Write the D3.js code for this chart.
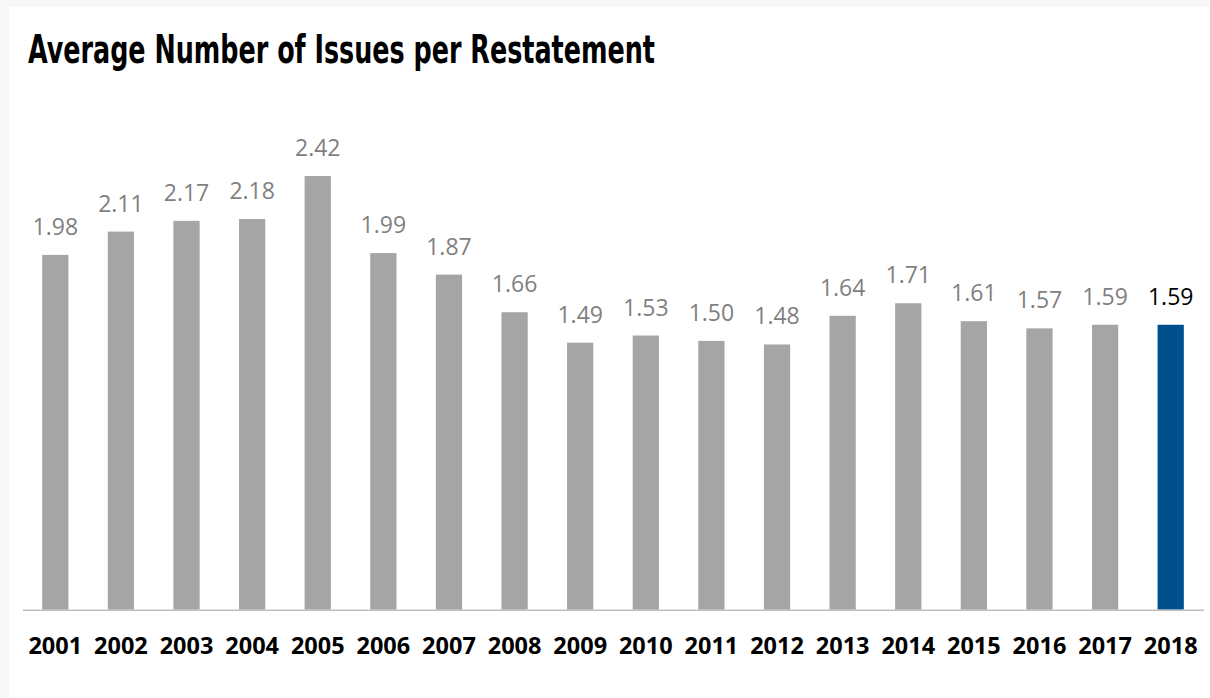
<!DOCTYPE html>
<html>
<head>
<meta charset="utf-8">
<script src="https://cdn.jsdelivr.net/npm/d3@7"></script>
<style>
  html, body { margin: 0; padding: 0; background: #f8f8f8; }
  svg { display: block; }
</style>
</head>
<body>
<svg id="chart" width="1210" height="698"></svg>
<script>
// Average number of issues per restatement, by year
const years = ["2001","2002","2003","2004","2005","2006","2007","2008","2009",
               "2010","2011","2012","2013","2014","2015","2016","2017","2018"];
const avgIssues = [1.98, 2.11, 2.17, 2.18, 2.42, 1.99, 1.87, 1.66, 1.49,
                   1.53, 1.50, 1.48, 1.64, 1.71, 1.61, 1.57, 1.59, 1.59];
const highlightYear = "2018";
const titleText = "Average Number of Issues per Restatement";

const data = years.map((y, i) => ({ year: y, value: avgIssues[i] }));

const svg = d3.select("#chart");
const W = 1210, H = 698;

// white panel
svg.append("rect")
  .attr("x", 9).attr("y", 7)
  .attr("width", W - 9).attr("height", H - 7)
  .attr("fill", "#ffffff");

// title
svg.append("text")
  .attr("x", 28).attr("y", 63)
  .attr("font-family", "'Liberation Sans Narrow', 'DejaVu Sans Condensed', sans-serif")
  .attr("font-weight", "bold")
  .attr("font-size", 39)
  .attr("textLength", 627)
  .attr("lengthAdjust", "spacingAndGlyphs")
  .attr("fill", "#000000")
  .text(titleText);

const x = d3.scaleBand()
  .domain(years)
  .range([22.5, 1203.5])
  .paddingInner(0.6)
  .paddingOuter(0.3);

const baseline = 609.7;
const y = d3.scaleLinear()
  .domain([0, 3])
  .range([baseline, baseline - 3 * 179.2]);

// bars
svg.append("g")
  .selectAll("rect")
  .data(data)
  .join("rect")
  .attr("x", d => x(d.year))
  .attr("y", d => y(d.value))
  .attr("width", x.bandwidth())
  .attr("height", d => y(0) - y(d.value))
  .attr("fill", d => d.year === highlightYear ? "#00508e" : "#a5a5a5");

// value labels
svg.append("g")
  .selectAll("text")
  .data(data)
  .join("text")
  .attr("x", d => x(d.year) + x.bandwidth() / 2)
  .attr("y", d => y(d.value) - 20)
  .attr("text-anchor", "middle")
  .attr("font-family", "'Open Sans', sans-serif")
  .attr("font-size", 23)
  .attr("fill", d => d.year === highlightYear ? "#000000" : "#7f7f7f")
  .text(d => d3.format(".2f")(d.value));

// category axis
const xAxis = d3.axisBottom(x).tickSize(0).tickPadding(0);
const gx = svg.append("g")
  .attr("transform", `translate(0,${baseline})`)
  .call(xAxis);
gx.select(".domain")
  .attr("stroke", "#bfbfbf")
  .attr("stroke-width", 1.5);
gx.selectAll(".tick text")
  .attr("y", 44)
  .attr("dy", 0)
  .attr("font-family", "'Open Sans', sans-serif")
  .attr("font-weight", "bold")
  .attr("font-size", 23.5)
  .attr("fill", "#000000");
</script>
</body>
</html>
